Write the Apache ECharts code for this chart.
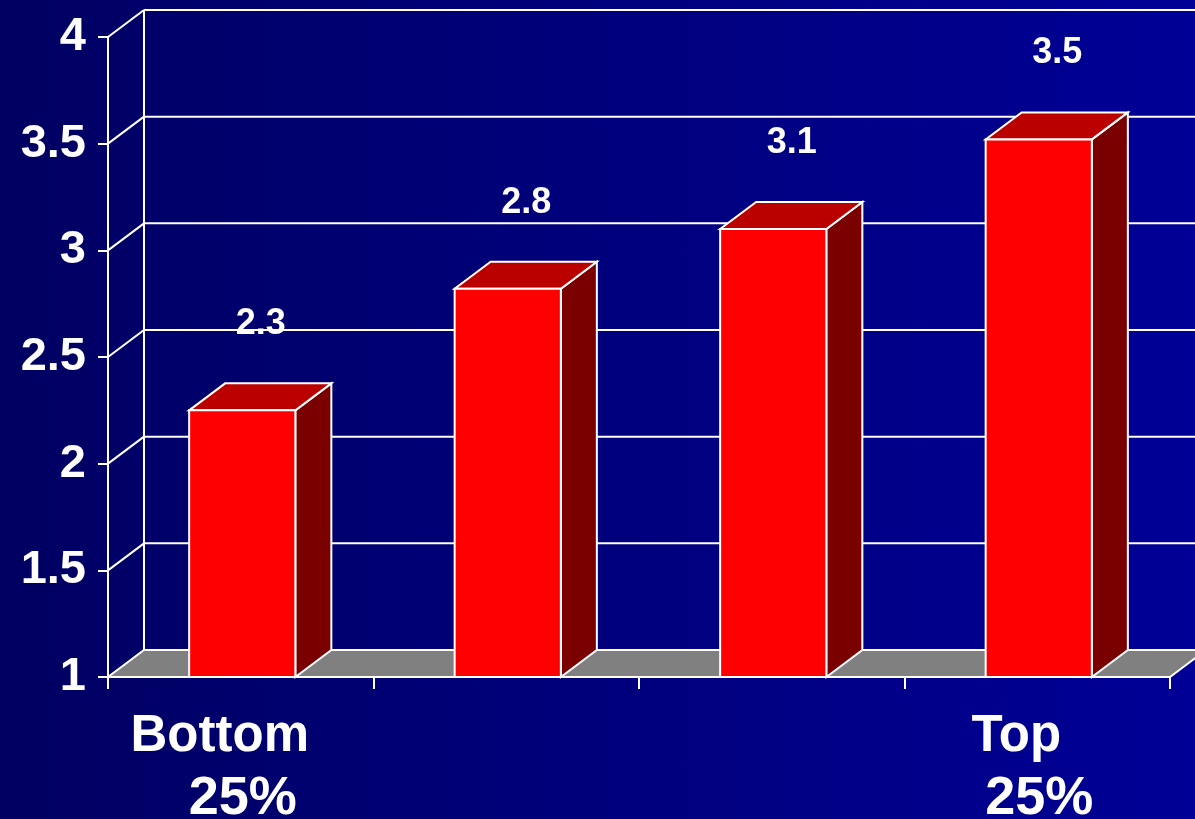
<!DOCTYPE html>
<html><head><meta charset="utf-8">
<script src="https://cdn.jsdelivr.net/npm/echarts@6/dist/echarts.min.js"></script>
<style>
html,body{margin:0;padding:0;overflow:hidden;}
#c{width:1195px;height:819px;background:linear-gradient(to right,#000062,#000096);}
</style>
</head><body><div id="c"></div>
<script>
// ---- data ----
const categoryLine1 = ['Bottom', '', '', 'Top'];
const categoryLine2 = ['25%', '', '', '25%'];
const values = [2.25, 2.82, 3.1, 3.52];
const valueLabels = ['2.3', '2.8', '3.1', '3.5'];
const yMin = 1, yMax = 4, yStep = 0.5;
const yTicks = [1, 1.5, 2, 2.5, 3, 3.5, 4];

// ---- style constants ----
const DX = 36, DY = 27;
const FONT = '"Liberation Sans", Arial, sans-serif';
const WHITE = '#ffffff';

const chart = echarts.init(document.getElementById('c'), null, {renderer: 'canvas'});

function frameItem(params, api) {
  const cs = params.coordSys;
  const v = api.value(1);
  const y = api.coord([0, v])[1];
  const left = cs.x, right = cs.x + cs.width;
  const children = [];
  if (v === yMin) {
    const yTop = api.coord([0, yMax])[1];
    children.push({
      type: 'polygon',
      shape: {points: [[left, y], [right, y], [right + DX, y - DY], [left + DX, y - DY]]},
      style: {fill: '#808080', stroke: WHITE, lineWidth: 2}
    });
    children.push({
      type: 'line',
      shape: {x1: left + DX, y1: y - DY, x2: left + DX, y2: yTop - DY},
      style: {stroke: WHITE, lineWidth: 2}
    });
  } else {
    children.push({
      type: 'line',
      shape: {x1: left + DX, y1: y - DY, x2: right + DX + 40, y2: y - DY},
      style: {stroke: WHITE, lineWidth: 2}
    });
    children.push({
      type: 'line',
      shape: {x1: left, y1: y, x2: left + DX, y2: y - DY},
      style: {stroke: WHITE, lineWidth: 2}
    });
  }
  return {type: 'group', children: children};
}

function barItem(params, api) {
  const idx = api.value(0);
  const top = api.coord([idx, api.value(1)]);
  const base = api.coord([idx, yMin]);
  const band = api.size([1, 0])[0];
  const w = band * 0.4;
  const x0 = top[0] - w / 2 + 1.5, x1 = x0 + w;
  const yt = top[1], yb = base[1];
  const st = {stroke: WHITE, lineWidth: 2, lineJoin: 'miter'};
  return {
    type: 'group',
    children: [
      {type: 'polygon', shape: {points: [[x1, yt], [x1 + DX, yt - DY], [x1 + DX, yb - DY], [x1, yb]]},
       style: Object.assign({fill: '#7a0000'}, st)},
      {type: 'polygon', shape: {points: [[x0, yt], [x1, yt], [x1 + DX, yt - DY], [x0 + DX, yt - DY]]},
       style: Object.assign({fill: '#bb0000'}, st)},
      {type: 'rect', shape: {x: x0, y: yt, width: w, height: yb - yt},
       style: Object.assign({fill: '#ff0000'}, st)},
      {type: 'text', x: top[0] + 20, y: yt - 86,
       style: {text: valueLabels[params.dataIndex], fill: WHITE, font: 'bold 36px ' + FONT,
               align: 'center', verticalAlign: 'middle'}}
    ]
  };
}

chart.setOption({
  backgroundColor: 'transparent',
  animation: false,
  grid: {left: 108, right: 25, top: 37, bottom: 142, containLabel: false, outerBoundsMode: 'none'},
  xAxis: {
    type: 'category',
    data: categoryLine1.map((t, i) => i),
    boundaryGap: true,
    axisLine: {show: true, lineStyle: {color: WHITE, width: 2}},
    axisTick: {show: true, length: 12, interval: 0, lineStyle: {color: WHITE, width: 2}},
    splitLine: {show: false},
    axisLabel: {
      interval: 0, margin: 28,
      formatter: (val, i) => categoryLine1[i] ? '{a|' + categoryLine1[i] + '}\n{b|' + categoryLine2[i] + '}' : '',
      rich: {
        a: {fontFamily: FONT, fontWeight: 'bold', fontSize: 51, color: WHITE, lineHeight: 63, padding: [0, 42, 0, 0]},
        b: {fontFamily: FONT, fontWeight: 'bold', fontSize: 54, color: WHITE, lineHeight: 63, padding: [0, 0, 0, 4]}
      }
    }
  },
  yAxis: {
    type: 'value', min: yMin, max: yMax, interval: yStep,
    axisLine: {show: true, lineStyle: {color: WHITE, width: 2}},
    axisTick: {show: true, length: 10, lineStyle: {color: WHITE, width: 2}},
    splitLine: {show: false},
    axisLabel: {
      margin: 22, color: WHITE, fontFamily: FONT, fontWeight: 'bold', fontSize: 47,
      padding: [8, 0, 0, 0],
      formatter: v => yTicks.indexOf(v) >= 0 ? String(v) : ''
    }
  },
  series: [
    {type: 'custom', z: 1, renderItem: frameItem, silent: true, clip: false,
     data: yTicks.map(v => [0, v])},
    {type: 'custom', z: 3, renderItem: barItem, silent: true, clip: false,
     data: values.map((v, i) => [i, v])}
  ]
});
</script>
</body></html>
